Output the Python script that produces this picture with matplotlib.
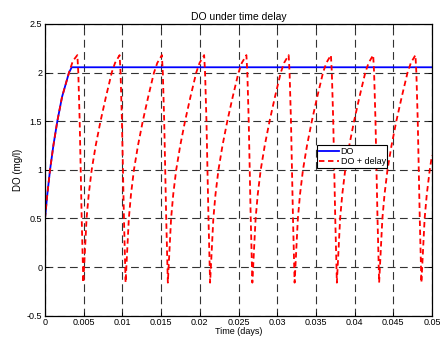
import numpy as np
import matplotlib
matplotlib.use("Agg")
import matplotlib.pyplot as plt

""" DO without delay (read from the picture) """
do_t = [0, 0.0003, 0.00065, 0.00108, 0.00159, 0.0022, 0.0031, 0.00345, 0.05]
do_val = [0.5, 0.75, 1.0, 1.25, 1.5, 1.75, 2.0, 2.055, 2.055]

""" DO + delay, one line per cycle: rise then drop """
delay_t = [0, 0.0003, 0.00065, 0.00108, 0.00159, 0.0022, 0.0031, 0.0036, 0.00418,
           0.0043, 0.00448, 0.00461, 0.00474, 0.00489,
           0.00495, 0.00505, 0.00537, 0.00565, 0.00603, 0.00655, 0.00717, 0.00787, 0.00862, 0.00905, 0.00964,
           0.00976, 0.00994, 0.01007, 0.0102, 0.01035,
           0.01041, 0.01051, 0.01083, 0.01111, 0.01149, 0.01201, 0.01263, 0.01333, 0.01408, 0.01451, 0.0151,
           0.01522, 0.0154, 0.01553, 0.01566, 0.01581,
           0.01587, 0.01597, 0.01629, 0.01657, 0.01695, 0.01747, 0.01809, 0.01879, 0.01954, 0.01997, 0.02056,
           0.02068, 0.02086, 0.02099, 0.02112, 0.02127,
           0.02133, 0.02143, 0.02175, 0.02203, 0.02241, 0.02293, 0.02355, 0.02425, 0.025, 0.02543, 0.02602,
           0.02614, 0.02632, 0.02645, 0.02658, 0.02673,
           0.02679, 0.02689, 0.02721, 0.02749, 0.02787, 0.02839, 0.02901, 0.02971, 0.03046, 0.03089, 0.03148,
           0.0316, 0.03178, 0.03191, 0.03204, 0.03219,
           0.03225, 0.03235, 0.03267, 0.03295, 0.03333, 0.03385, 0.03447, 0.03517, 0.03592, 0.03635, 0.03694,
           0.03706, 0.03724, 0.03737, 0.0375, 0.03765,
           0.03771, 0.03781, 0.03813, 0.03841, 0.03879, 0.03931, 0.03993, 0.04063, 0.04138, 0.04181, 0.0424,
           0.04252, 0.0427, 0.04283, 0.04296, 0.04311,
           0.04317, 0.04327, 0.04359, 0.04387, 0.04425, 0.04477, 0.04539, 0.04609, 0.04684, 0.04727, 0.04786,
           0.04798, 0.04816, 0.04829, 0.04842, 0.04857,
           0.04863, 0.04873, 0.04905, 0.04933, 0.04971, 0.05]
delay_val = [0.5, 0.75, 1.0, 1.25, 1.5, 1.75, 2.0, 2.12, 2.18,
             2.0, 1.5, 1.0, 0.5, 0.0,
             -0.16, 0.0, 0.5, 0.75, 1.0, 1.25, 1.5, 1.75, 2.0, 2.1, 2.18,
             2.0, 1.5, 1.0, 0.5, 0.0,
             -0.16, 0.0, 0.5, 0.75, 1.0, 1.25, 1.5, 1.75, 2.0, 2.1, 2.18,
             2.0, 1.5, 1.0, 0.5, 0.0,
             -0.16, 0.0, 0.5, 0.75, 1.0, 1.25, 1.5, 1.75, 2.0, 2.1, 2.18,
             2.0, 1.5, 1.0, 0.5, 0.0,
             -0.16, 0.0, 0.5, 0.75, 1.0, 1.25, 1.5, 1.75, 2.0, 2.1, 2.18,
             2.0, 1.5, 1.0, 0.5, 0.0,
             -0.16, 0.0, 0.5, 0.75, 1.0, 1.25, 1.5, 1.75, 2.0, 2.1, 2.18,
             2.0, 1.5, 1.0, 0.5, 0.0,
             -0.16, 0.0, 0.5, 0.75, 1.0, 1.25, 1.5, 1.75, 2.0, 2.1, 2.18,
             2.0, 1.5, 1.0, 0.5, 0.0,
             -0.16, 0.0, 0.5, 0.75, 1.0, 1.25, 1.5, 1.75, 2.0, 2.1, 2.18,
             2.0, 1.5, 1.0, 0.5, 0.0,
             -0.16, 0.0, 0.5, 0.75, 1.0, 1.25, 1.5, 1.75, 2.0, 2.1, 2.18,
             2.0, 1.5, 1.0, 0.5, 0.0,
             -0.16, 0.0, 0.5, 0.75, 1.0, 1.15]

x_ticks = [0, 0.005, 0.01, 0.015, 0.02, 0.025, 0.03, 0.035, 0.04, 0.045, 0.05]
x_labels = ["0", "0.005", "0.01", "0.015", "0.02", "0.025", "0.03", "0.035", "0.04", "0.045", "0.05"]
y_ticks = [-0.5, 0, 0.5, 1, 1.5, 2, 2.5]
y_labels = ["-0.5", "0", "0.5", "1", "1.5", "2", "2.5"]

plt.rcParams['font.family'] = ['Liberation Sans', 'DejaVu Sans']
fig = plt.figure(figsize=(4.4, 3.37), dpi=100)
ax = fig.add_axes([0.1023, 0.0632, 0.8795, 0.8656])

ax.plot(do_t, do_val, color='blue', lw=1.3, label='DO')
ax.plot(delay_t, delay_val, color='red', lw=1.3, ls=(0, (3, 2)), label='DO + delay')

ax.set_xlim(0, 0.05)
ax.set_ylim(-0.5, 2.5)
ax.set_xticks(x_ticks)
ax.set_xticklabels(x_labels, fontsize=6.5)
ax.set_yticks(y_ticks)
ax.set_yticklabels(y_labels, fontsize=6.5)
ax.tick_params(direction='in', length=3, width=0.6, top=True, right=True, pad=2)
ax.grid(True, color='0.2', ls=(0, (7, 4)), lw=0.8)
for s in ax.spines.values():
    s.set_linewidth(0.9)

ax.set_title('DO under time delay', fontsize=7.5, pad=3)
ax.set_xlabel('Time (days)', fontsize=6.5, labelpad=0)
ax.set_ylabel('DO (mg/l)', fontsize=7, labelpad=3)

leg = ax.legend(loc='upper left', bbox_to_anchor=(0.703, 0.585), fontsize=6.5,
                frameon=True, fancybox=False, edgecolor='black', framealpha=1,
                handlelength=2.2, handletextpad=0.2, borderpad=0.2, labelspacing=0.1,
                borderaxespad=0)
leg.get_frame().set_linewidth(0.8)

fig.savefig('out.png', dpi=100)
